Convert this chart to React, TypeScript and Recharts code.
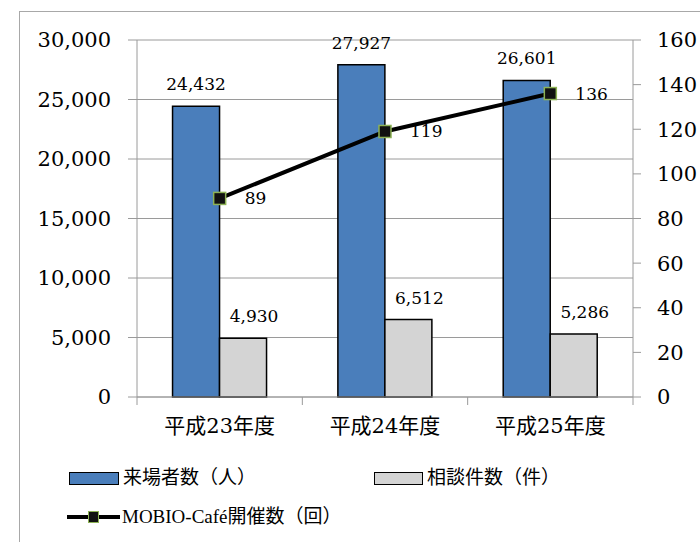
import React from 'react';
import { ComposedChart, Bar, Line, XAxis, YAxis, CartesianGrid, LabelList } from 'recharts';

const years = ['平成23年度', '平成24年度', '平成25年度'];
const visitors = [24432, 27927, 26601];
const consultations = [4930, 6512, 5286];
const cafeEvents = [89, 119, 136];
const leftTicks = [0, 5000, 10000, 15000, 20000, 25000, 30000];
const rightTicks = [0, 20, 40, 60, 80, 100, 120, 140, 160];

const data = years.map((year, i) => ({
  year,
  visitors: visitors[i],
  consultations: consultations[i],
  cafe: cafeEvents[i],
}));

const NUM_FONT = '"DejaVu Serif", serif';
const JP_FONT = '"Liberation Serif", "Noto Sans CJK JP", serif';
const GRID = '#9a9a9a';
const BLUE = '#4a7ebb';
const GREY = '#d4d4d4';

// plot spans x 137..633
const BAND = (700 - 137 - 67) / 3;

const fmt = (v: number) => v.toLocaleString('en-US');

const YearTick = (props: any) => {
  const { x, y, payload, index } = props;
  return (
    <g>
      <line x1={x - BAND / 2} y1={y - 8} x2={x - BAND / 2} y2={y} stroke={GRID} />
      {index === years.length - 1 && (
        <line x1={x + BAND / 2} y1={y - 8} x2={x + BAND / 2} y2={y} stroke={GRID} />
      )}
      <text x={x} y={y + 28} textAnchor="middle" fontSize={21} fill="#000"
        fontFamily='"DejaVu Serif", "Noto Sans CJK JP", serif'>
        {payload.value}
      </text>
    </g>
  );
};

const barLabel = (dx: number) => (p: any) => (
  <text x={p.x + p.width / 2 + dx} y={p.y - 16} textAnchor="middle"
    fontSize={17} fontFamily={NUM_FONT} fill="#000">
    {fmt(p.value)}
  </text>
);

const lineLabel = (p: any) => (
  <text x={p.x + 25} y={p.y + 6} textAnchor="start"
    fontSize={17} fontFamily={NUM_FONT} fill="#000">
    {p.value}
  </text>
);

const SquareDot = (p: any) => (
  <rect key={p.index} x={p.cx - 6} y={p.cy - 6} width={12} height={12}
    fill="#111" stroke="#8db255" strokeWidth={1.5} />
);

export default function App() {
  return (
    <div style={{ position: 'fixed', left: 0, top: 0, width: 700, height: 542, overflow: 'hidden', background: '#fff' }}>
      <div style={{ position: 'absolute', left: 19, top: 11, width: 800, height: 700, border: '1.5px solid #a8a8a8' }} />
      <div style={{ position: 'absolute', left: 0, top: 0 }}>
        <ComposedChart width={700} height={542} data={data}
          margin={{ top: 40, right: 0, bottom: 0, left: 0 }}
          barGap={0} barCategoryGap="21.5%">
          <CartesianGrid yAxisId="left" vertical={false} stroke={GRID} />
          <XAxis dataKey="year" height={145} tickSize={8} tickMargin={0}
            tickLine={false} axisLine={{ stroke: GRID }} tick={<YearTick />} interval={0} />
          <YAxis yAxisId="left" orientation="left" width={137} domain={[0, 30000]}
            ticks={leftTicks} tickFormatter={fmt} tickSize={9} tickMargin={17}
            axisLine={{ stroke: GRID }} tickLine={{ stroke: GRID }}
            tick={{ fontSize: 21, fontFamily: NUM_FONT, fill: '#000' }} />
          <YAxis yAxisId="right" orientation="right" width={67} domain={[0, 160]}
            ticks={rightTicks} tickSize={8} tickMargin={16}
            axisLine={{ stroke: GRID }} tickLine={{ stroke: GRID }}
            tick={{ fontSize: 21, fontFamily: NUM_FONT, fill: '#000' }} />
          <Bar yAxisId="left" dataKey="visitors" fill={BLUE} stroke="#000" strokeWidth={1.5}
            isAnimationActive={false}>
            <LabelList dataKey="visitors" content={barLabel(0)} />
          </Bar>
          <Bar yAxisId="left" dataKey="consultations" fill={GREY} stroke="#000" strokeWidth={1.5}
            isAnimationActive={false}>
            <LabelList dataKey="consultations" content={barLabel(11)} />
          </Bar>
          <Line yAxisId="right" dataKey="cafe" stroke="#000" strokeWidth={4}
            dot={<SquareDot />} activeDot={false} isAnimationActive={false}>
            <LabelList dataKey="cafe" content={lineLabel} />
          </Line>
        </ComposedChart>
      </div>
      <div style={{ position: 'absolute', left: 69, top: 472, width: 48, height: 11, background: BLUE, border: '1.5px solid #000' }} />
      <div style={{ position: 'absolute', left: 123, top: 466, fontSize: 19, fontFamily: JP_FONT, lineHeight: '24px' }}>来場者数（人）</div>
      <div style={{ position: 'absolute', left: 374, top: 472, width: 47, height: 11, background: GREY, border: '1.5px solid #000' }} />
      <div style={{ position: 'absolute', left: 427, top: 466, fontSize: 19, fontFamily: JP_FONT, lineHeight: '24px' }}>相談件数（件）</div>
      <div style={{ position: 'absolute', left: 67, top: 515, width: 53, height: 4, background: '#000' }} />
      <div style={{ position: 'absolute', left: 88, top: 511, width: 9, height: 10, background: '#111', border: '1.5px solid #8db255' }} />
      <div style={{ position: 'absolute', left: 122, top: 505, fontSize: 19, fontFamily: JP_FONT, lineHeight: '24px' }}>MOBIO-Café開催数（回）</div>
    </div>
  );
}
